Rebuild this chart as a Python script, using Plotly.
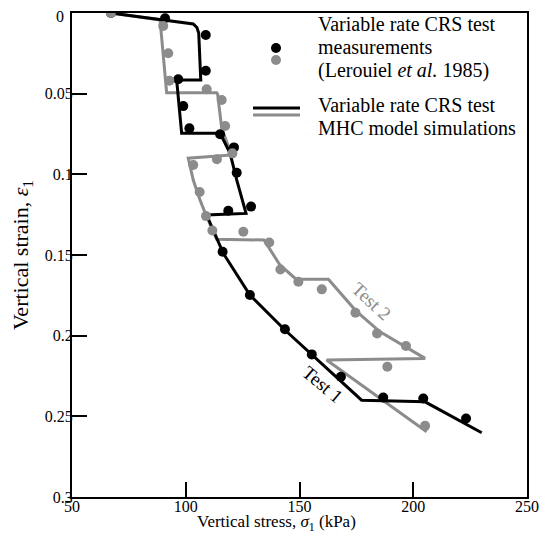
import plotly.graph_objects as go

# ---------------- data ----------------
# Test 1 measurements (black dots): vertical stress (kPa), vertical strain
test1_meas_stress = [67.1, 90.9, 108.8, 108.8, 96.7, 98.9, 101.6, 115.1, 121.2, 122.4,
                     128.7, 118.7, 116.2, 128.2, 143.6, 155.4, 168.2, 186.8, 204.4, 223.2]
test1_meas_strain = [0.000, 0.0033, 0.0136, 0.0358, 0.0411, 0.0577, 0.0715, 0.0752, 0.0833, 0.099,
                     0.120, 0.1226, 0.148, 0.1748, 0.196, 0.2116, 0.2255, 0.2383, 0.2389, 0.2513]

# Test 2 measurements (grey dots)
test2_meas_stress = [67.1, 90.1, 92.3, 92.8, 109.2, 115.8, 117.3, 120.5, 113.7, 103.3, 106.1, 108.9,
                     111.7, 125.3, 136.7, 141.6, 149.5, 159.8, 174.6, 184.1, 196.8, 188.6, 205.2]
test2_meas_strain = [0.000, 0.0081, 0.025, 0.042, 0.0473, 0.0539, 0.070, 0.087, 0.0907, 0.0942, 0.111, 0.1259,
                     0.1348, 0.1356, 0.1423, 0.159, 0.1666, 0.1713, 0.1858, 0.1986, 0.2064, 0.2193, 0.2559]

# Test 1 MHC model simulation (black line)
test1_sim_stress = [67.1, 88.7, 103.3, 104.9, 105.7, 106.6, 96.0, 98.2, 115.1, 119.5, 122.4, 126.5,
                    109.2, 116.5, 128.2, 143.6, 155.4, 177.3, 205.2, 230.1]
test1_sim_strain = [0.000, 0.0043, 0.0068, 0.009, 0.0124, 0.0415, 0.0415, 0.0746, 0.0746, 0.087, 0.1035, 0.1242,
                    0.1252, 0.149, 0.1748, 0.1965, 0.2116, 0.240, 0.241, 0.2602]

# Test 2 MHC model simulation (grey line)
test2_sim_stress = [67.1, 88.7, 91.6, 113.6, 114.0, 115.8, 117.7, 120.2, 101.1, 103.3, 106.3, 109.2,
                    113.6, 134.4, 141.4, 148.5, 162.7, 174.8, 185.4, 197.1, 205.2, 161.9, 205.9]
test2_sim_strain = [0.000, 0.0043, 0.0494, 0.0494, 0.0502, 0.0714, 0.0787, 0.088, 0.090, 0.1035, 0.116, 0.1263,
                    0.1403, 0.1407, 0.1562, 0.165, 0.1651, 0.1846, 0.1976, 0.2073, 0.2141, 0.2151, 0.2596]

x_ticks = [50, 100, 150, 200, 250]
y_ticks = [0, 0.05, 0.1, 0.15, 0.2, 0.25, 0.3]
y_tick_labels = ["0", "0.05", "0.1", "0.15", "0.2", "0.25", "0.3"]

legend_lines = ["Variable rate CRS test", "measurements",
                "(Lerouiel <i>et al.</i> 1985)",
                "Variable rate CRS test", "MHC model simulations"]

BLACK = "#000000"
GREY = "#8c8c8c"
FONT = "Liberation Serif"

fig = go.Figure()
fig.add_trace(go.Scatter(x=test2_sim_stress, y=test2_sim_strain, mode="lines",
                         line=dict(color=GREY, width=3), showlegend=False, hoverinfo="skip"))
fig.add_trace(go.Scatter(x=test1_sim_stress, y=test1_sim_strain, mode="lines",
                         line=dict(color=BLACK, width=3), showlegend=False, hoverinfo="skip"))
fig.add_trace(go.Scatter(x=test1_meas_stress, y=test1_meas_strain, mode="markers",
                         marker=dict(color=BLACK, size=10), showlegend=False))
fig.add_trace(go.Scatter(x=test2_meas_stress, y=test2_meas_strain, mode="markers",
                         marker=dict(color=GREY, size=10), showlegend=False))

# page body adds an 8px offset; figure sized so the page fits the window
OFF = 8
FIG_W, FIG_H = 542, 536
# plot-area geometry in screen pixels
L, R, T, B = 72, 527, 13, 497
W, H = R - L, B - T


def px(xpix):
    return (xpix - L) / W


def py(ypix):
    return 1 - (ypix - T) / H


annotations = []
for txt, ypix in zip(legend_lines, [24, 47, 70, 105, 128]):
    annotations.append(dict(text=txt, x=px(316), y=py(ypix), xref="paper", yref="paper",
                            xanchor="left", yanchor="middle", showarrow=False,
                            font=dict(family=FONT, size=20, color="black")))

annotations.append(dict(text="Test 1", x=px(323), y=py(410), xref="paper", yref="paper",
                        showarrow=False, textangle=40,
                        font=dict(family=FONT, size=19, color="black")))
annotations.append(dict(text="Test 2", x=px(372), y=py(301), xref="paper", yref="paper",
                        showarrow=False, textangle=43,
                        font=dict(family=FONT, size=19, color=GREY)))
# x-axis title
annotations.append(dict(text="Vertical stress, <i>σ</i><sub>1</sub> (kPa)", x=px(276), y=py(523),
                        xref="paper", yref="paper", xanchor="center", yanchor="middle",
                        showarrow=False, font=dict(family=FONT, size=17, color="black")))
# top y tick label (drawn as annotation so it is not clipped at the page top)
annotations.append(dict(text=y_tick_labels[0], x=px(66), y=py(16), xref="paper", yref="paper",
                        xanchor="right", yanchor="middle", showarrow=False,
                        font=dict(family=FONT, size=16, color="black")))

shapes = [
    dict(type="circle", xref="paper", yref="paper", xsizemode="pixel", ysizemode="pixel",
         xanchor=px(276), yanchor=py(48), x0=-5, x1=5, y0=-5, y1=5,
         fillcolor=BLACK, line=dict(width=0)),
    dict(type="circle", xref="paper", yref="paper", xsizemode="pixel", ysizemode="pixel",
         xanchor=px(276), yanchor=py(60), x0=-5, x1=5, y0=-5, y1=5,
         fillcolor=GREY, line=dict(width=0)),
    dict(type="line", xref="paper", yref="paper", x0=px(253), x1=px(300), y0=py(108), y1=py(108),
         line=dict(color=BLACK, width=3)),
    dict(type="line", xref="paper", yref="paper", x0=px(253), x1=px(300), y0=py(115), y1=py(115),
         line=dict(color=GREY, width=3)),
]

fig.update_layout(
    width=FIG_W, height=FIG_H,
    margin=dict(l=L - OFF, r=FIG_W - (R - OFF), t=T - OFF, b=FIG_H - (B - OFF), autoexpand=False),
    paper_bgcolor="white", plot_bgcolor="white",
    font=dict(family=FONT, size=16, color="black"),
    annotations=annotations, shapes=shapes,
    xaxis=dict(range=[50, 250], tickvals=x_ticks, ticks="inside", ticklen=15, tickwidth=2,
               tickcolor="black", showline=True, linecolor="black", linewidth=2, mirror=True,
               showgrid=False, zeroline=False, tickfont=dict(family=FONT, size=16),
               automargin=False, ticklabelstandoff=-6, ticklabeloverflow="allow"),
    yaxis=dict(range=[0.3, 0], tickvals=y_ticks, ticktext=[""] + y_tick_labels[1:], ticks="inside",
               ticklen=15, tickwidth=2, tickcolor="black", showline=True, linecolor="black",
               linewidth=2, mirror=True, showgrid=False, zeroline=False,
               tickfont=dict(family=FONT, size=16),
               automargin=False, ticklabelstandoff=-6, ticklabeloverflow="allow",
               title=dict(text="Vertical strain, <i>ε</i><sub>1</sub>",
                          font=dict(family=FONT, size=22), standoff=10)),
)

fig.write_html("out.html")
